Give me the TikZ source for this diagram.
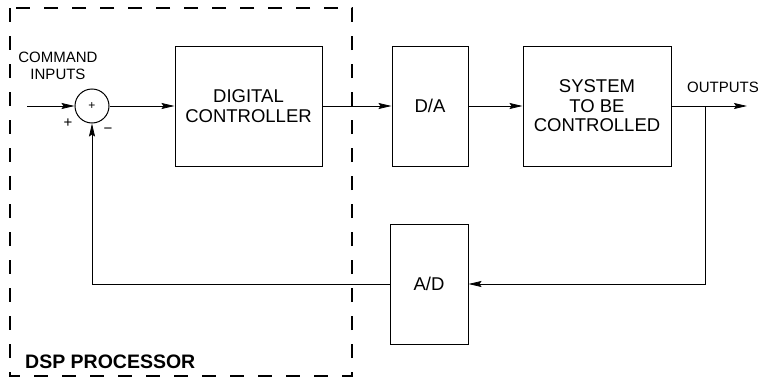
\documentclass[tikz,border=0pt]{standalone}
\usepackage{fontspec}
\setmainfont{Liberation Sans}
\usetikzlibrary{arrows.meta}
\begin{document}
\begin{tikzpicture}[x=1pt,y=-1pt,
  blk/.style={draw, line width=1pt, inner sep=0pt, align=center,
    font=\fontsize{18.5}{19.5}\selectfont},
  lbl/.style={inner sep=0pt, align=center, font=\fontsize{15}{17}\selectfont},
  conn/.style={line width=0.8pt},
  arr/.style={conn, -{Stealth[length=13pt,width=6pt,inset=2pt]}},
  dsp/.style={line width=1.3pt, dash pattern=on 14pt off 14pt}]
\useasboundingbox (0,0) rectangle (766,380);
\draw[dsp] (10,8) rectangle (352,376);
\node[inner sep=0pt, anchor=base west, font=\fontsize{19.5}{20}\selectfont\bfseries] (dsplbl) at (25,368) {DSP PROCESSOR};

\node[lbl] (cmd) at (58,66) {COMMAND\\INPUTS};
\node[draw, circle, line width=1pt, minimum size=34pt, inner sep=0pt, font=\fontsize{12}{12}\selectfont] (sum) at (92,106) {+};
\node[lbl] (plus) at (68,123) {+};
\node[lbl] (minus) at (108,131) {\textminus};

\node[blk, minimum width=147pt, minimum height=120pt] (dc) at (248.5,106) {DIGITAL\\CONTROLLER};
\node[blk, minimum width=76pt, minimum height=120pt] (da) at (430,106) {D/A};
\node[blk, minimum width=148pt, minimum height=120pt] (sys) at (597,106) {SYSTEM\\TO BE\\CONTROLLED};
\node[blk, minimum width=78pt, minimum height=120pt] (ad) at (429,284) {A/D};
\node[lbl] (outl) at (723,87) {OUTPUTS};

\coordinate (in) at (27,106);
\coordinate (tap) at (705,106);
\coordinate (out) at (747,106);

\draw[arr] (in) -- (sum.west);
\draw[arr] (sum.east) -- (dc.west);
\draw[arr] (dc.east) -- (da.west);
\draw[arr] (da.east) -- (sys.west);
\draw[arr] (sys.east) -- (out);
\draw[arr] (tap) |- (ad.east);
\draw[arr] (ad.west) -| (sum.south);
\end{tikzpicture}
\end{document}
